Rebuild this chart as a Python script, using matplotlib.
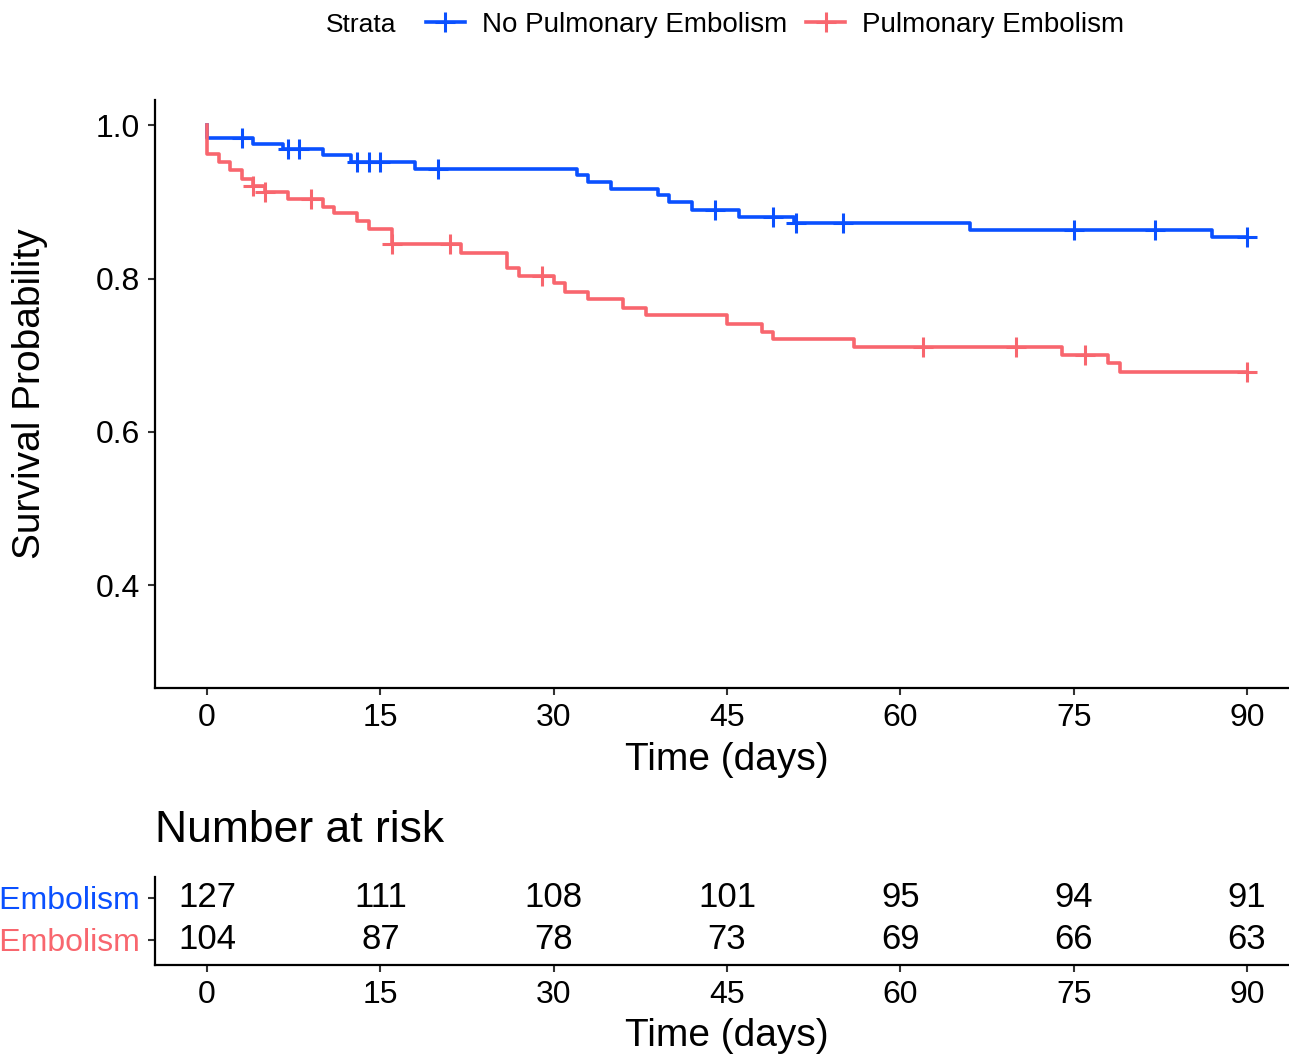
#=== BIBLIOTECAS ===
import numpy as np
import matplotlib.pyplot as plt
from matplotlib.lines import Line2D

plt.rcParams['font.family'] = ['Liberation Sans', 'DejaVu Sans']

#=== Dados ===
# curva Kaplan-Meier do grupo sem embolia (tempo do evento, sobrevida depois do evento)
t_nao = [0, 0, 4, 6.6, 10, 12.5, 18, 32, 33, 35, 39, 40, 42, 46, 50.8, 66, 87, 90]
s_nao = [1.0, 0.984, 0.976, 0.969, 0.961, 0.952, 0.943, 0.935, 0.926, 0.917,
         0.909, 0.900, 0.890, 0.881, 0.872, 0.864, 0.854, 0.854]
cens_nao = [3, 7, 8, 13, 14, 15, 20, 44, 49, 51, 55, 75, 82, 90]

# curva do grupo com embolia pulmonar
t_pe = [0, 0, 1, 2, 3, 4, 5, 7, 10, 11, 13, 14, 16, 22, 26, 27, 30, 31, 33, 36,
        38, 45, 48, 49, 56, 74, 78, 79, 90]
s_pe = [1.0, 0.962, 0.952, 0.942, 0.930, 0.921, 0.913, 0.904, 0.894, 0.885,
        0.875, 0.865, 0.845, 0.834, 0.814, 0.804, 0.794, 0.783, 0.773, 0.762,
        0.752, 0.741, 0.731, 0.721, 0.711, 0.701, 0.690, 0.678, 0.678]
cens_pe = [4, 5, 9, 16, 21, 29, 62, 70, 76, 90]

# tabela de numero em risco
tempos_tab = [0, 15, 30, 45, 60, 75, 90]
risco_nao = [127, 111, 108, 101, 95, 94, 91]
risco_pe = [104, 87, 78, 73, 69, 66, 63]

grupos = ['No Pulmonary Embolism', 'Pulmonary Embolism']
azul = '#0A50FF'
verm = '#F8666E'


#=== Funcao: valor da curva em escada num tempo qualquer ===
def valor_escada(tt, ss, tc):
    idx = np.searchsorted(tt, tc, side='right') - 1
    return np.array(ss)[idx]


#=== Figura ===
fig = plt.figure(figsize=(12.89, 10.56), dpi=100)

L = 155 / 1289
W = 1144 / 1289

ax = fig.add_axes([L, 1 - 688 / 1056, W, 588 / 1056])

ax.step(t_nao, s_nao, where='post', color=azul, lw=2.6)
ax.plot(cens_nao, valor_escada(t_nao, s_nao, cens_nao), '+', color=azul, ms=15, mew=2.2)

ax.step(t_pe, s_pe, where='post', color=verm, lw=2.6)
ax.plot(cens_pe, valor_escada(t_pe, s_pe, cens_pe), '+', color=verm, ms=15, mew=2.2)

ax.set_xlim(-4.5, 94.5)
ax.set_ylim(0.266, 1.033)
ax.set_xticks(tempos_tab)
ax.set_yticks([0.4, 0.6, 0.8, 1.0])
ax.set_yticklabels(['0.4', '0.6', '0.8', '1.0'])
ax.tick_params(labelsize=23, length=5, width=1.5, pad=6, color='#333333')
for lado in ['top', 'right']:
    ax.spines[lado].set_visible(False)
for lado in ['left', 'bottom']:
    ax.spines[lado].set_linewidth(1.6)

ax.set_xlabel('Time (days)', fontsize=28)
ax.xaxis.set_label_coords(0.5, -0.092)
ax.set_ylabel('Survival Probability', fontsize=28)
ax.yaxis.set_label_coords(-0.0935, 0.5)

#=== Legenda no topo ===
fig.text(361 / 1289, 1 - 25 / 1056, 'Strata', ha='center', va='center', fontsize=19)
alcas = [Line2D([], [], color=azul, lw=2.6, marker='+', ms=15, mew=2.2),
         Line2D([], [], color=verm, lw=2.6, marker='+', ms=15, mew=2.2)]
fig.legend(alcas, grupos, loc='center', bbox_to_anchor=(775 / 1289, 1 - 25 / 1056),
           ncol=2, frameon=False, fontsize=20, handlelength=1.4, columnspacing=0.7,
           handletextpad=0.6)

#=== Tabela de numero em risco ===
axr = fig.add_axes([L, 1 - 965 / 1056, W, 88 / 1056])
for i in range(len(tempos_tab)):
    axr.text(tempos_tab[i], 1, str(risco_nao[i]), ha='center', va='center', fontsize=25)
    axr.text(tempos_tab[i], 0, str(risco_pe[i]), ha='center', va='center', fontsize=25)

axr.set_xlim(-4.5, 94.5)
axr.set_ylim(-0.6, 1.5)
axr.set_xticks(tempos_tab)
axr.set_yticks([1, 0])
axr.set_yticklabels(grupos)
for rot, cor in zip(axr.get_yticklabels(), [azul, verm]):
    rot.set_color(cor)
axr.tick_params(labelsize=23, length=5, width=1.5, pad=6, color='#333333')
for lado in ['top', 'right']:
    axr.spines[lado].set_visible(False)
for lado in ['left', 'bottom']:
    axr.spines[lado].set_linewidth(1.6)
axr.set_xlabel('Time (days)', fontsize=28)
axr.xaxis.set_label_coords(0.5, -0.6)

fig.text(L, 1 - 830 / 1056, 'Number at risk', ha='left', va='center', fontsize=32)

fig.savefig('out.png', dpi=100)
